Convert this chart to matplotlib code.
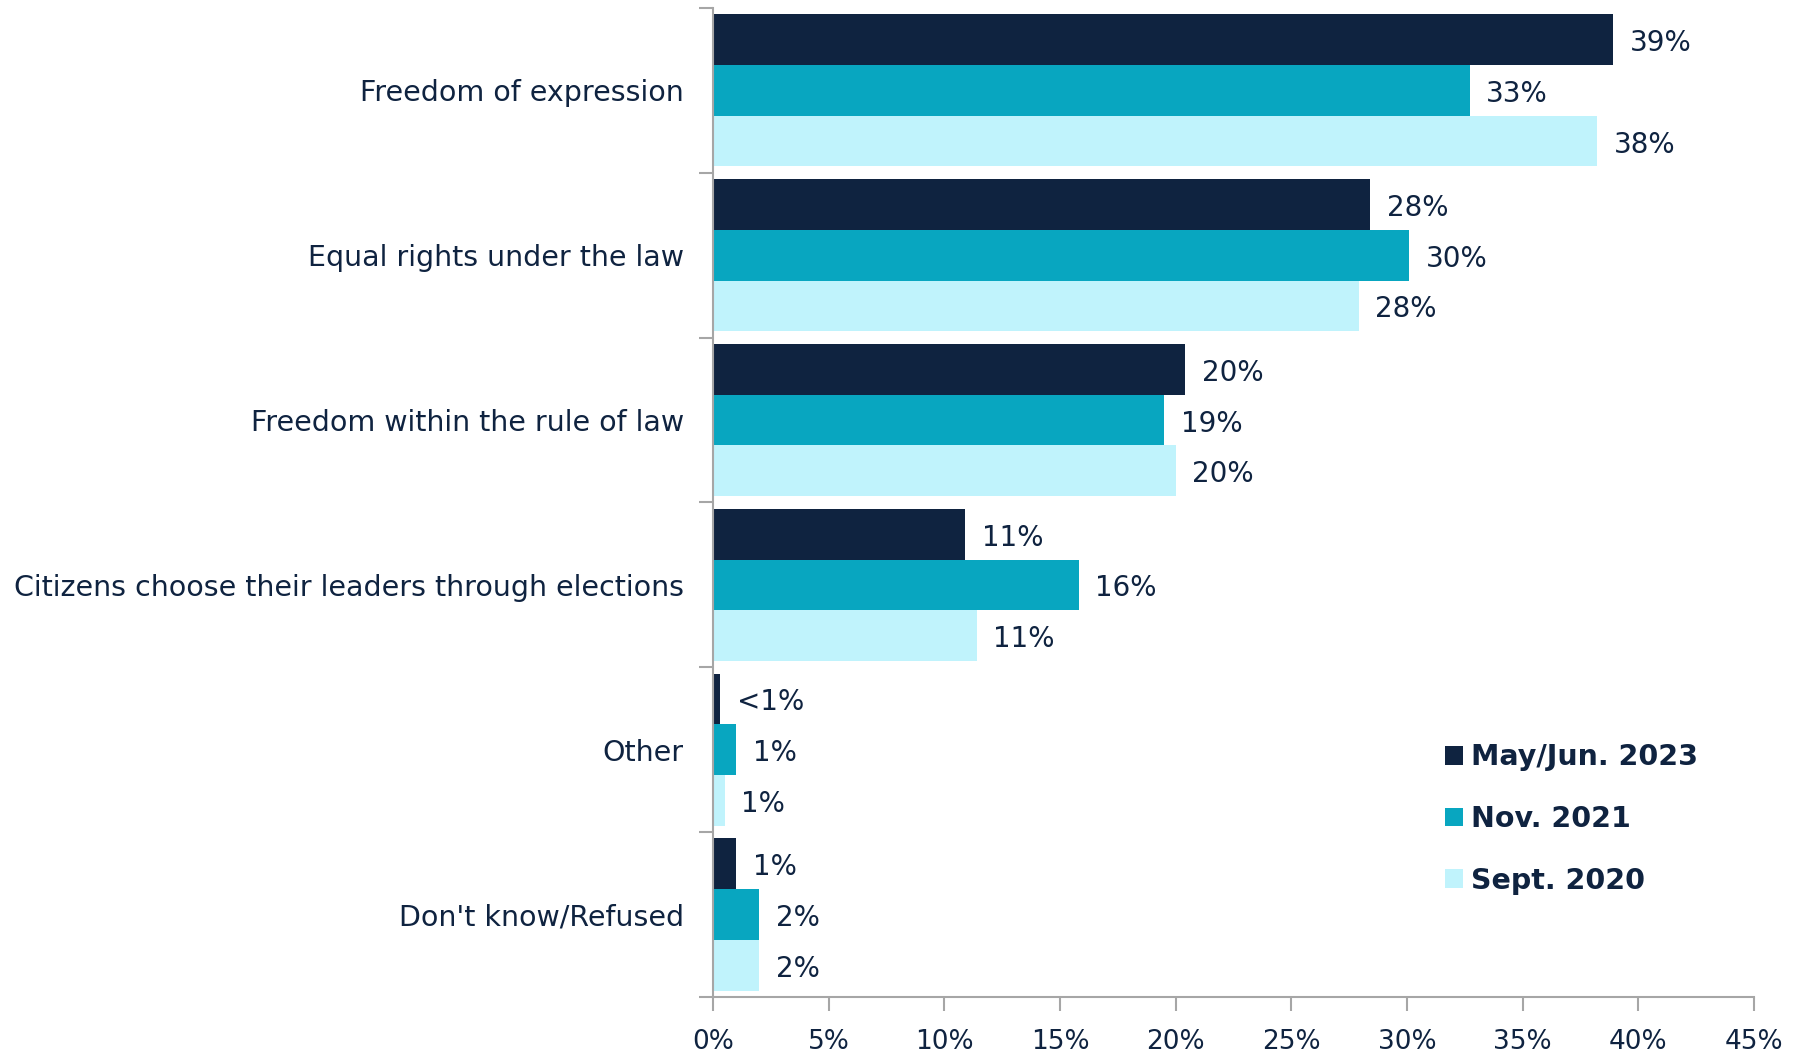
import numpy as np
import matplotlib.pyplot as plt
from matplotlib.ticker import FuncFormatter

categories = ['Freedom of expression', 'Equal rights under the law', 'Freedom within the rule of law',
              'Citizens choose their leaders through elections', 'Other', "Don't know/Refused"]
series = ['May/Jun. 2023', 'Nov. 2021', 'Sept. 2020']
may_2023 = [38.9, 28.4, 20.4, 10.9, 0.3, 1.0]
nov_2021 = [32.7, 30.1, 19.5, 15.8, 1.0, 2.0]
sept_2020 = [38.2, 27.9, 20.0, 11.4, 0.5, 2.0]
may_2023_labels = ['39%', '28%', '20%', '11%', '<1%', '1%']
nov_2021_labels = ['33%', '30%', '19%', '16%', '1%', '2%']
sept_2020_labels = ['38%', '28%', '20%', '11%', '1%', '2%']

colors = ['#0F2340', '#08A6C0', '#C0F3FC']
text_color = '#0F2340'
axis_color = '#A6A6A6'

plt.rcParams['font.family'] = ['DejaVu Sans']

fig = plt.figure(figsize=(18.01, 10.52), dpi=100)
ax = fig.add_axes([0.3959, 0.0523, 0.974 - 0.3959, 0.9924 - 0.0523])

n = len(categories)
centers = np.arange(n) + 0.5
bar_h = 0.3077
values = [may_2023, nov_2021, sept_2020]
labels = [may_2023_labels, nov_2021_labels, sept_2020_labels]

for i, (vals, labs) in enumerate(zip(values, labels)):
    ypos = centers + (i - 1) * bar_h
    bars = ax.barh(ypos, vals, height=bar_h, color=colors[i], label=series[i], linewidth=0)
    for b, lab in zip(bars, labs):
        ax.annotate(lab, (b.get_width(), b.get_y() + b.get_height() / 2),
                    xytext=(12, -2.5), textcoords='offset points',
                    ha='left', va='center', fontsize=20, color=text_color)

ax.set_ylim(n, 0)
ax.set_xlim(0, 45)
ax.set_xticks(np.arange(0, 46, 5))
ax.xaxis.set_major_formatter(FuncFormatter(lambda v, p: f'{v:.0f}%'))

# boundaries as ticks, category names on the centers
ax.set_yticks(np.arange(n + 1))
ax.set_yticklabels([])
ax.set_yticks(centers, minor=True)
ax.set_yticklabels(categories, minor=True)
ax.tick_params(axis='y', which='major', length=10, color=axis_color, width=1.5)
ax.tick_params(axis='y', which='minor', length=0, pad=21, labelsize=20.5, labelcolor=text_color)
ax.tick_params(axis='x', length=10, color=axis_color, width=1.5, pad=13, labelsize=19, labelcolor=text_color)

for s in ['top', 'right']:
    ax.spines[s].set_visible(False)
for s in ['left', 'bottom']:
    ax.spines[s].set_color(axis_color)
    ax.spines[s].set_linewidth(1.5)

leg = ax.legend(loc='center left', bbox_to_anchor=(0.703, 0.180), frameon=False,
                handlelength=0.62, handleheight=0.62, handletextpad=0.3, labelspacing=1.18,
                borderpad=0, borderaxespad=0,
                prop={'size': 20.5, 'weight': 'bold'})
for t in leg.get_texts():
    t.set_color(text_color)

fig.savefig('out.png', dpi=100)
